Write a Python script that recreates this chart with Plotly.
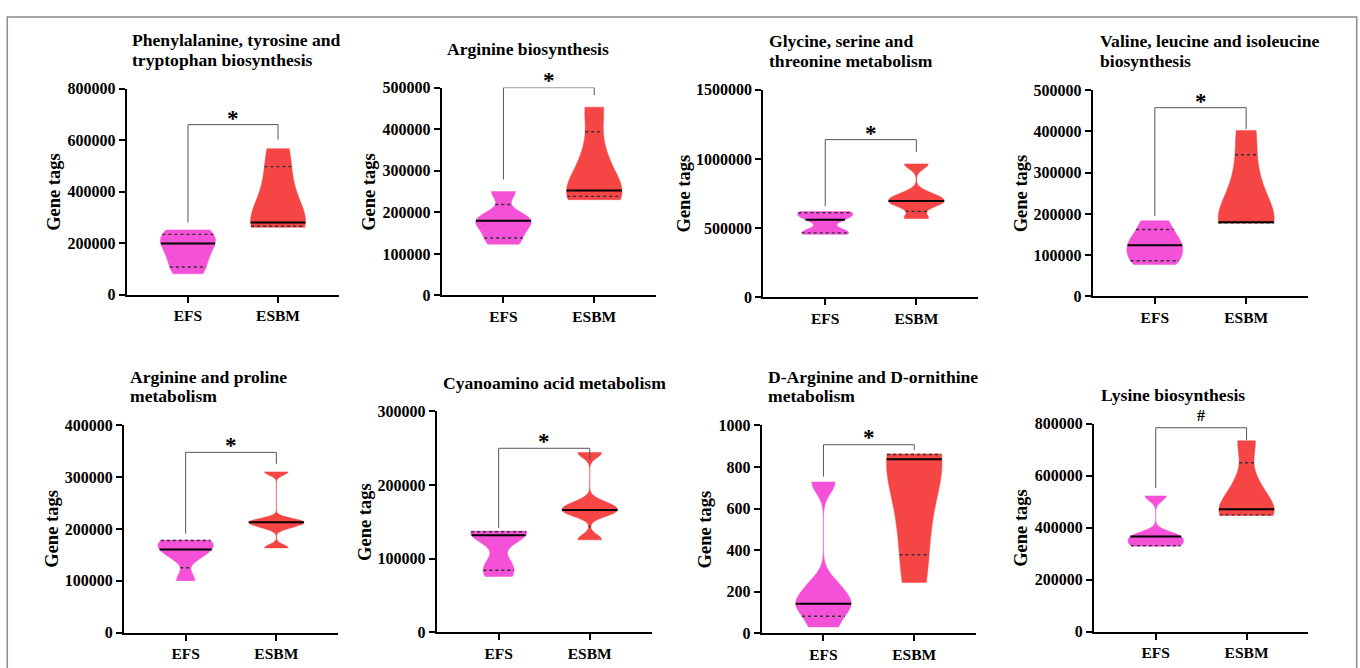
import numpy as np
import plotly.graph_objects as go

W, H = 1360, 668

# ---------------- data ----------------
titles = [
    "Phenylalanine, tyrosine and\ntryptophan biosynthesis",
    "Arginine biosynthesis",
    "Glycine, serine and\nthreonine metabolism",
    "Valine, leucine and isoleucine\nbiosynthesis",
    "Arginine and proline\nmetabolism",
    "Cyanoamino acid metabolism",
    "D-Arginine and D-ornithine\nmetabolism",
    "Lysine biosynthesis",
]
groups = ["EFS", "ESBM"]
y_label = "Gene tags"

efs_values = [
    [80600, 133400, 198000, 216200, 251000],
    [123400, 153200, 179700, 187500, 250000],
    [455000, 475000, 560000, 602000, 620000],
    [77200, 96000, 124400, 140900, 183500],
    [100300, 150500, 160500, 177300, 178700],
    [75900, 92700, 131900, 135800, 137600],
    [31, 134, 143, 230, 728],
    [328750, 333750, 366250, 368000, 522500],
]
esbm_values = [
    [261000, 269000, 280200, 427200, 566800],
    [230500, 246100, 252300, 334500, 453000],
    [569000, 672400, 696000, 738000, 964000],
    [178000, 179000, 180000, 284200, 402400],
    [163600, 205000, 213200, 216300, 310300],
    [125700, 161900, 166300, 174600, 244400],
    [244, 512, 837, 857, 863],
    [447500, 452000, 471250, 565000, 735000],
]
y_max = [800000, 500000, 1500000, 500000, 400000, 300000, 1000, 800000]
y_step = [200000, 100000, 500000, 100000, 100000, 100000, 200, 200000]

sig_labels = ["*", "*", "*", "*", "*", "*", "*", "#"]
bracket_top = [660000, 500000, 1140000, 457500, 348000, 250000, 907, 785000]
bracket_left_end = [280000, 279000, 658000, 195000, 191000, 142000, 754, 552500]
bracket_right_end = [602000, 482000, 1051000, 406000, 326000, 234700, 882, 737500]
sig_label_y = [704000, 529000, 1222000, 485000, 370000, 265500, 964, 831250]

# ---------------- styling / layout ----------------
colors = ["#F551D8", "#F54545"]
FONT = "Liberation Serif"
group_pos = [0, 1]
vwidth = 0.61
x_range = [-0.68, 1.68]
bw_scale = [[1, 1], [1, 1], [0.55, 1], [1, 1], [1, 1], [0.6, 1], [1, 1], [1, 1]]

panel_boxes = [  # left, top, right, bottom in px
    (126.7, 82.7, 339.3, 294),
    (441.7, 81.7, 656, 295),
    (763.3, 84, 978.3, 296.7),
    (1092.7, 84.3, 1308.3, 296),
    (124, 428.3, 338, 641),
    (436.7, 414, 651.7, 640.7),
    (761.7, 428.3, 976, 641.7),
    (1094, 426.7, 1308.3, 640),
]
title_pos = [(130, 33), (445, 41.7), (767.3, 34.3), (1097.7, 34.3),
             (128.3, 378.3), (440.7, 384.3), (766, 378.3), (1099, 397.3)]
ylabel_x = [53.3, 368.3, 684, 1021, 51.7, 365, 705, 1021]


def px(x):
    return x / W


def py(y):
    return 1 - y / H


def silverman(v):
    v = np.asarray(v, float)
    n = len(v)
    sd = np.std(v, ddof=1)
    q1, q3 = np.percentile(v, [25, 75])
    a = min(sd, (q3 - q1) / 1.349)
    bw = 1.059 * a * n ** (-0.2)
    return max(bw, (v.max() - v.min()) / 100)


def kde(yv, pts, bw):
    yv = np.atleast_1d(np.asarray(yv, float))
    pts = np.asarray(pts, float)[:, None]
    return np.exp(-0.5 * ((yv[None, :] - pts) / bw) ** 2).sum(axis=0)


fig = go.Figure()
layout = {}
annotations = []
tickfont_y = dict(family=FONT, size=16, color="black", weight="bold")
tickfont_x = dict(family=FONT, size=15.5, color="black", weight="bold")

for i in range(8):
    ax = "" if i == 0 else str(i + 1)
    xa, ya = "x" + ax, "y" + ax
    l, t, r, b = panel_boxes[i]
    layout["xaxis" + ax] = dict(
        domain=[px(l), px(r)], anchor=ya, range=x_range,
        tickvals=group_pos, ticktext=groups, showgrid=False, zeroline=False,
        showline=True, linecolor="black", linewidth=2,
        ticks="outside", ticklen=6, tickwidth=2, tickcolor="black",
        tickfont=tickfont_x, fixedrange=True,
    )
    tv = np.arange(0, y_max[i] + y_step[i] / 2, y_step[i])
    layout["yaxis" + ax] = dict(
        domain=[py(b), py(t)], anchor=xa, range=[0, y_max[i]],
        tickvals=tv, ticktext=[str(int(v)) for v in tv],
        showgrid=False, zeroline=False,
        showline=True, linecolor="black", linewidth=2,
        ticks="outside", ticklen=6, tickwidth=2, tickcolor="black",
        tickfont=tickfont_y, fixedrange=True,
    )

    for g, vals in enumerate([efs_values[i], esbm_values[i]]):
        vals = np.asarray(vals, float)
        bw = silverman(vals) * bw_scale[i][g]
        fig.add_trace(go.Violin(
            x=[group_pos[g]] * len(vals), y=vals, xaxis=xa, yaxis=ya,
            bandwidth=bw, spanmode="hard", scalemode="width", width=vwidth,
            points=False, fillcolor=colors[g], line=dict(color=colors[g], width=0.5),
            box_visible=False, meanline_visible=False, opacity=1,
            hoverinfo="skip", showlegend=False,
        ))
        grid = np.linspace(vals.min(), vals.max(), 600)
        kmax = kde(grid, vals, bw).max()
        q1, med, q3 = np.percentile(vals, [25, 50, 75], method="weibull")
        for val, dash, lw, col in [(q1, "dot", 1.4, "#333333"), (q3, "dot", 1.4, "#333333"),
                                   (med, "solid", 2, "black")]:
            hw = vwidth / 2 * kde(val, vals, bw)[0] / kmax
            fig.add_trace(go.Scatter(
                x=[group_pos[g] - hw, group_pos[g] + hw], y=[val, val],
                xaxis=xa, yaxis=ya, mode="lines",
                line=dict(color=col, width=lw, dash=dash),
                hoverinfo="skip", showlegend=False,
            ))

    # significance bracket
    fig.add_trace(go.Scatter(
        x=[group_pos[0], group_pos[0], group_pos[1], group_pos[1]],
        y=[bracket_left_end[i], bracket_top[i], bracket_top[i], bracket_right_end[i]],
        xaxis=xa, yaxis=ya, mode="lines", line=dict(color="#555555", width=1),
        hoverinfo="skip", showlegend=False, cliponaxis=False,
    ))
    is_star = sig_labels[i] == "*"
    annotations.append(dict(
        x=(group_pos[0] + group_pos[1]) / 2, y=sig_label_y[i] / y_max[i],
        xref=xa, yref=ya + " domain",
        text="<b>%s</b>" % sig_labels[i], showarrow=False,
        font=dict(family=FONT, size=23 if is_star else 16, color="black"),
        xanchor="center", yanchor="middle", yshift=-5 if is_star else 0,
    ))

    # titles
    tx, ty = title_pos[i]
    for k, line in enumerate(titles[i].split("\n")):
        annotations.append(dict(
            x=px(tx), y=py(ty + 20 * k), xref="paper", yref="paper",
            text="<b>%s</b>" % line, showarrow=False,
            font=dict(family=FONT, size=17.6, color="black"),
            xanchor="left", yanchor="middle",
        ))
    # y axis label
    annotations.append(dict(
        x=px(ylabel_x[i]), y=py((t + b) / 2), xref="paper", yref="paper",
        text="<b>%s</b>" % y_label, showarrow=False, textangle=-90,
        font=dict(family=FONT, size=18.5, color="black"),
        xanchor="center", yanchor="middle",
    ))

layout.update(dict(
    width=W, height=H, margin=dict(l=0, r=0, t=0, b=0),
    paper_bgcolor="white", plot_bgcolor="white",
    violinmode="overlay", showlegend=False,
    annotations=annotations,
    shapes=[dict(type="rect", xref="paper", yref="paper",
                 x0=px(7.3), x1=px(1356.7), y0=py(720), y1=py(9.3),
                 line=dict(color="#8a8a8a", width=1.5), fillcolor="rgba(0,0,0,0)")],
))
fig.update_layout(**layout)

fig.write_html("out.html", config={"displayModeBar": False},
               post_script="document.body.style.margin='0';")
